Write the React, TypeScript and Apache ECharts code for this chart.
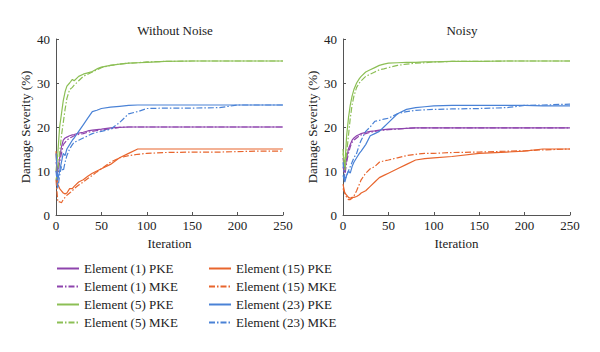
import React, { useEffect, useRef } from "react";
import * as echarts from "echarts";

const iterations = [0, 2, 4, 6, 8, 10, 12, 15, 18, 20, 25, 30, 35, 40, 45, 50, 60, 70, 80, 90, 100, 120, 150, 180, 200, 220, 250];

// Without Noise
const cleanE1Pke = [12, 10, 13, 15.5, 17, 17.5, 17.7, 18, 18.2, 18.3, 18.6, 18.8, 19.1, 19.3, 19.4, 19.5, 19.8, 19.9, 20, 20, 20, 20, 20, 20, 20, 20, 20];
const cleanE1Mke = [10, 9, 12, 14, 16, 16.5, 17, 17.5, 17.8, 18, 18.3, 18.5, 18.8, 19, 19.2, 19.3, 19.6, 19.9, 20, 20, 20, 20, 20, 20, 20, 20, 20];
const cleanE5Pke = [10, 14, 20, 23, 26, 28, 29.3, 30, 30.8, 30.5, 31.5, 32, 32.3, 32.6, 33.2, 33.6, 34, 34.3, 34.5, 34.6, 34.7, 34.9, 35, 35, 35, 35, 35];
const cleanE5Mke = [8, 10, 14, 18, 21, 24, 26.5, 28.5, 29, 29.5, 30.5, 31.5, 32, 32.5, 33, 33.5, 34, 34.3, 34.5, 34.6, 34.8, 34.9, 35, 35, 35, 35, 35];
const cleanE15Pke = [14.5, 7, 6, 5.5, 5, 4.8, 5, 6, 6, 6.5, 7.5, 8, 8.8, 9.5, 10, 10.5, 11.5, 13, 14, 15, 15, 15, 15, 15, 15, 15, 15];
const cleanE15Mke = [8, 3, 3, 2.8, 3.5, 4, 4.5, 5, 5.5, 6, 6.8, 7.5, 8.3, 9, 9.8, 10.5, 12, 13, 13.5, 13.8, 14, 14.2, 14.3, 14.3, 14.4, 14.5, 14.5];
const cleanE23Pke = [14, 8, 10, 12, 14, 13.5, 15, 16, 17, 17.5, 19, 20.5, 22, 23.5, 23.8, 24.2, 24.5, 24.7, 24.9, 25, 25, 25, 25, 25, 25, 25, 25];
const cleanE23Mke = [10, 6, 9, 11, 10, 12, 13.5, 15, 16, 16.5, 17, 17.5, 18, 18.5, 18.8, 19, 19.5, 21, 23, 23.5, 24.2, 24.3, 24.3, 24.4, 25, 25, 25];

// Noisy
const noisyE1Pke = [13, 10, 13, 15, 16, 17, 17.5, 18, 18.3, 18.5, 18.8, 19, 19.1, 19.3, 19.4, 19.5, 19.6, 19.7, 19.8, 19.8, 19.8, 19.8, 19.8, 19.8, 19.8, 19.8, 19.8];
const noisyE1Mke = [11, 9, 12, 14, 15.5, 16.5, 17, 17.5, 18, 18.2, 18.5, 18.8, 19, 19.2, 19.3, 19.4, 19.5, 19.7, 19.8, 19.8, 19.8, 19.8, 19.8, 19.8, 19.8, 19.8, 19.8];
const noisyE5Pke = [14, 11, 18, 22, 25, 27, 28.5, 30, 31, 31.5, 32.5, 33, 33.5, 34, 34.3, 34.5, 34.6, 34.7, 34.7, 34.8, 34.8, 34.9, 34.9, 35, 35, 35, 35];
const noisyE5Mke = [15, 10, 14, 18, 22, 25, 27, 29, 30, 30.5, 31.5, 32, 32.5, 33, 33.2, 33.5, 34, 34.3, 34.5, 34.6, 34.8, 34.9, 34.9, 35, 35, 35, 35];
const noisyE15Pke = [7, 5, 4.5, 4, 3.8, 4, 4, 4.2, 4.6, 5, 5.5, 6.5, 7.5, 8.5, 9, 9.5, 10.5, 11.5, 12.5, 12.8, 13, 13.3, 14, 14.3, 14.5, 15, 15];
const noisyE15Mke = [6, 5, 4, 3.5, 3.5, 3.8, 4.3, 5.5, 7, 8, 9.5, 10.5, 11, 12, 12.3, 12.5, 13, 13.5, 13.8, 14, 14, 14.2, 14.3, 14.5, 14.6, 14.8, 15];
const noisyE23Pke = [9, 7.5, 9, 10, 9.5, 11, 12, 13, 14, 14.5, 16, 18, 18.5, 19, 20, 21, 23, 24, 24.4, 24.6, 24.8, 24.9, 24.9, 24.9, 24.9, 24.8, 24.8];
const noisyE23Mke = [12, 8, 9, 10, 11, 12, 13, 14, 16, 17, 19, 20, 21.3, 21.5, 21.8, 22, 23, 23.5, 23.8, 23.9, 24, 24.1, 24.2, 24.4, 24.9, 25, 25.2];

const xTicks = [0, 50, 100, 150, 200, 250];
const yTicks = [0, 10, 20, 30, 40];

const colors = {
  e1: "#8e44ad",
  e5: "#8cbf55",
  e15: "#e8652d",
  e23: "#4a82d6",
};

const FONT = "'Liberation Serif', 'DejaVu Serif', serif";
const dashDot = [6, 2, 1.5, 2];

export default function App() {
  const ref = useRef<HTMLDivElement>(null);
  useEffect(() => {
    const chart = echarts.init(ref.current!, null, { renderer: "svg" });
    const pair = (ys: number[]) => iterations.map((x, i) => [x, ys[i]]);
    const mk = (name: string, ys: number[], color: string, mke: boolean, idx: number) => ({
      name,
      type: "line",
      xAxisIndex: idx,
      yAxisIndex: idx,
      data: pair(ys),
      showSymbol: false,
      symbol: "none",
      lineStyle: { color, width: 1.2, type: mke ? dashDot : "solid" },
      itemStyle: { color },
    });
    const sets = [
      [cleanE1Pke, cleanE1Mke, cleanE5Pke, cleanE5Mke, cleanE15Pke, cleanE15Mke, cleanE23Pke, cleanE23Mke],
      [noisyE1Pke, noisyE1Mke, noisyE5Pke, noisyE5Mke, noisyE15Pke, noisyE15Mke, noisyE23Pke, noisyE23Mke],
    ];
    const names = [
      ["Element (1) PKE", colors.e1, false],
      ["Element (1) MKE", colors.e1, true],
      ["Element (5) PKE", colors.e5, false],
      ["Element (5) MKE", colors.e5, true],
      ["Element (15) PKE", colors.e15, false],
      ["Element (15) MKE", colors.e15, true],
      ["Element (23) PKE", colors.e23, false],
      ["Element (23) MKE", colors.e23, true],
    ] as [string, string, boolean][];
    const series: any[] = [];
    sets.forEach((set, gi) => {
      set.forEach((ys, si) => {
        const [n, c, m] = names[si];
        series.push(mk(n, ys, c, m, gi));
      });
    });
    const axisLine = { lineStyle: { color: "#555", width: 1 } };
    const xAxis = (gi: number) => ({
      type: "value",
      gridIndex: gi,
      min: xTicks[0],
      max: xTicks[xTicks.length - 1],
      interval: 50,
      name: "Iteration",
      nameLocation: "middle",
      nameGap: 22,
      nameTextStyle: { fontFamily: FONT, fontSize: 13, color: "#222" },
      axisLine,
      axisTick: { inside: true, length: 3, lineStyle: { color: "#555" } },
      axisLabel: { fontFamily: FONT, fontSize: 13, color: "#222", margin: 4 },
      splitLine: { show: false },
    });
    const yAxis = (gi: number) => ({
      type: "value",
      gridIndex: gi,
      min: yTicks[0],
      max: yTicks[yTicks.length - 1],
      interval: 10,
      name: "Damage Severity (%)",
      nameLocation: "middle",
      nameGap: 24,
      nameTextStyle: { fontFamily: FONT, fontSize: 13, color: "#222" },
      axisLine: { show: true, ...axisLine },
      axisTick: { show: true, inside: true, length: 3, lineStyle: { color: "#555" } },
      axisLabel: { fontFamily: FONT, fontSize: 13, color: "#222", margin: 6 },
      splitLine: { show: false },
    });
    const legendBase = {
      orient: "vertical",
      top: 262,
      padding: 0,
      itemWidth: 22,
      itemHeight: 14,
      itemGap: 5,
      itemStyle: { opacity: 0, borderWidth: 0 },
      textStyle: { fontFamily: FONT, fontSize: 13, color: "#222" },
      selectedMode: false,
    };
    chart.setOption({
      animation: false,
      title: [
        { text: "Without Noise", left: 170, top: 19, textAlign: "center", textStyle: { fontFamily: FONT, fontSize: 13, fontWeight: "normal", color: "#222" } },
        { text: "Noisy", left: 457, top: 19, textAlign: "center", textStyle: { fontFamily: FONT, fontSize: 13, fontWeight: "normal", color: "#222" } },
      ],
      legend: [
        { ...legendBase, left: 56, data: names.slice(0, 4).map((n) => n[0]) },
        { ...legendBase, left: 208, data: names.slice(4, 8).map((n) => n[0]) },
      ],
      grid: [
        { left: 56, right: 317, top: 39, bottom: 137 },
        { left: 343, right: 30, top: 39, bottom: 137 },
      ],
      xAxis: [xAxis(0), xAxis(1)],
      yAxis: [yAxis(0), yAxis(1)],
      series,
    });
    return () => chart.dispose();
  }, []);
  return <div ref={ref} style={{ position: "fixed", left: 0, top: 0, width: 600, height: 352, background: "#fff" }} />;
}
